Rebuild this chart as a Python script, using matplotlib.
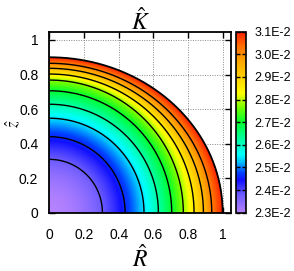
import numpy as np
import matplotlib
matplotlib.use("Agg")
import matplotlib.pyplot as plt
from matplotlib.colors import LinearSegmentedColormap

# ---- data (values in units of 1E-2) ----
center_value = 2.30
contour_values = [2.38, 2.46, 2.54, 2.62, 2.70, 2.78, 2.86, 2.94, 3.02, 3.10]
contour_R = [0.306, 0.437, 0.546, 0.629, 0.706, 0.773, 0.835, 0.889, 0.937, 1.000]
contour_z = [0.309, 0.440, 0.547, 0.628, 0.706, 0.768, 0.803, 0.836, 0.865, 0.900]
cbar_ticks = [2.3, 2.4, 2.5, 2.6, 2.7, 2.8, 2.9, 3.0, 3.1]
axis_ticks = [0, 0.2, 0.4, 0.6, 0.8, 1]
tick_labels = ["0", "0.2", "0.4", "0.6", "0.8", "1"]

# colour palette (position in value range, colour)
pal_pos = [0.0, 0.10, 0.18, 0.22, 0.28, 0.32, 0.42, 0.50, 0.58, 0.66, 0.75, 0.85, 0.92, 1.0]
pal_col = ["#b482ff", "#6a5aff", "#1010ff", "#0040ff", "#00c0ff", "#00ffff",
           "#00ff90", "#00ff30", "#70ff00", "#ffff00", "#ffd000", "#ffa000",
           "#ff7000", "#ff2000"]
cmap = LinearSegmentedColormap.from_list("pal", list(zip(pal_pos, pal_col)))

plt.rcParams["font.family"] = ["Liberation Sans", "DejaVu Sans"]
plt.rcParams["mathtext.fontset"] = "stix"

# ---- build field from the contour ellipses ----
n = 600
R1 = np.linspace(0, 1.0, n)
Z1 = np.linspace(0, 0.9, int(n * 0.9))
Rg, Zg = np.meshgrid(R1, Z1)
theta = np.arctan2(Zg, Rg)
r2 = Rg**2 + Zg**2
a = np.array(contour_R)[:, None, None]
c = np.array(contour_z)[:, None, None]
ri2 = 1.0 / (np.cos(theta)**2 / a**2 + np.sin(theta)**2 / c**2)  # (k, ny, nx)
ri2 = np.concatenate([np.zeros((1,) + r2.shape), ri2], axis=0)
vals = np.array([center_value] + contour_values)
idx = np.clip((r2[None] > ri2).sum(axis=0) - 1, 0, len(vals) - 2)
lo = np.take_along_axis(ri2, idx[None], 0)[0]
hi = np.take_along_axis(ri2, idx[None] + 1, 0)[0]
t = np.clip((r2 - lo) / np.maximum(hi - lo, 1e-12), 0, 1)
field = vals[idx] + t * (vals[idx + 1] - vals[idx])
outside = r2 > ri2[-1] * 1.0
field_m = np.ma.masked_where(outside, field)

fig = plt.figure(figsize=(2.94, 2.71), dpi=100)
ax = fig.add_axes([0.168, 0.215, 0.617, 0.668])
ax.set_axisbelow(True)
im = ax.imshow(field_m, origin="lower", extent=[0, 1.0, 0, 0.9], cmap=cmap,
               vmin=cbar_ticks[0], vmax=cbar_ticks[-1], interpolation="bilinear",
               aspect="auto", zorder=1)
ax.contour(Rg, Zg, field_m, levels=contour_values[:-1], colors="k",
           linewidths=1.0, zorder=2)
tt = np.linspace(0, np.pi / 2, 300)
ax.plot(contour_R[-1] * np.cos(tt), contour_z[-1] * np.sin(tt), color="k",
        lw=1.3, zorder=3)

ax.set_xlim(0, 1.047)
ax.set_ylim(0, 1.048)
ax.set_xticks(axis_ticks)
ax.set_xticklabels(tick_labels)
ax.set_yticks(axis_ticks)
ax.set_yticklabels(tick_labels)
ax.grid(True, color="#888888", linestyle=(0, (1, 1.5)), linewidth=0.7)
ax.tick_params(axis="both", direction="in", top=True, right=True, length=4,
               width=1.0, labelsize=10)
ax.tick_params(axis="x", pad=11)
ax.tick_params(axis="y", pad=8)
for s in ax.spines.values():
    s.set_linewidth(1.3)

ax.set_title(r"$\hat{K}$", fontsize=17, pad=1)
ax.set_xlabel(r"$\hat{R}$", fontsize=17, labelpad=2)
ax.set_ylabel(r"$\hat{z}$", fontsize=12)
ax.yaxis.set_label_coords(-0.15, 0.49)

cax = fig.add_axes([0.803, 0.215, 0.034, 0.668])
cb = fig.colorbar(im, cax=cax, ticks=cbar_ticks)
cb.set_ticklabels([f"{v:.1f}E-2" for v in cbar_ticks])
cax.tick_params(direction="in", left=True, right=True, length=3, width=1.0,
                labelsize=9, pad=6)
cb.outline.set_linewidth(1.2)

fig.savefig("out.png", dpi=100)
